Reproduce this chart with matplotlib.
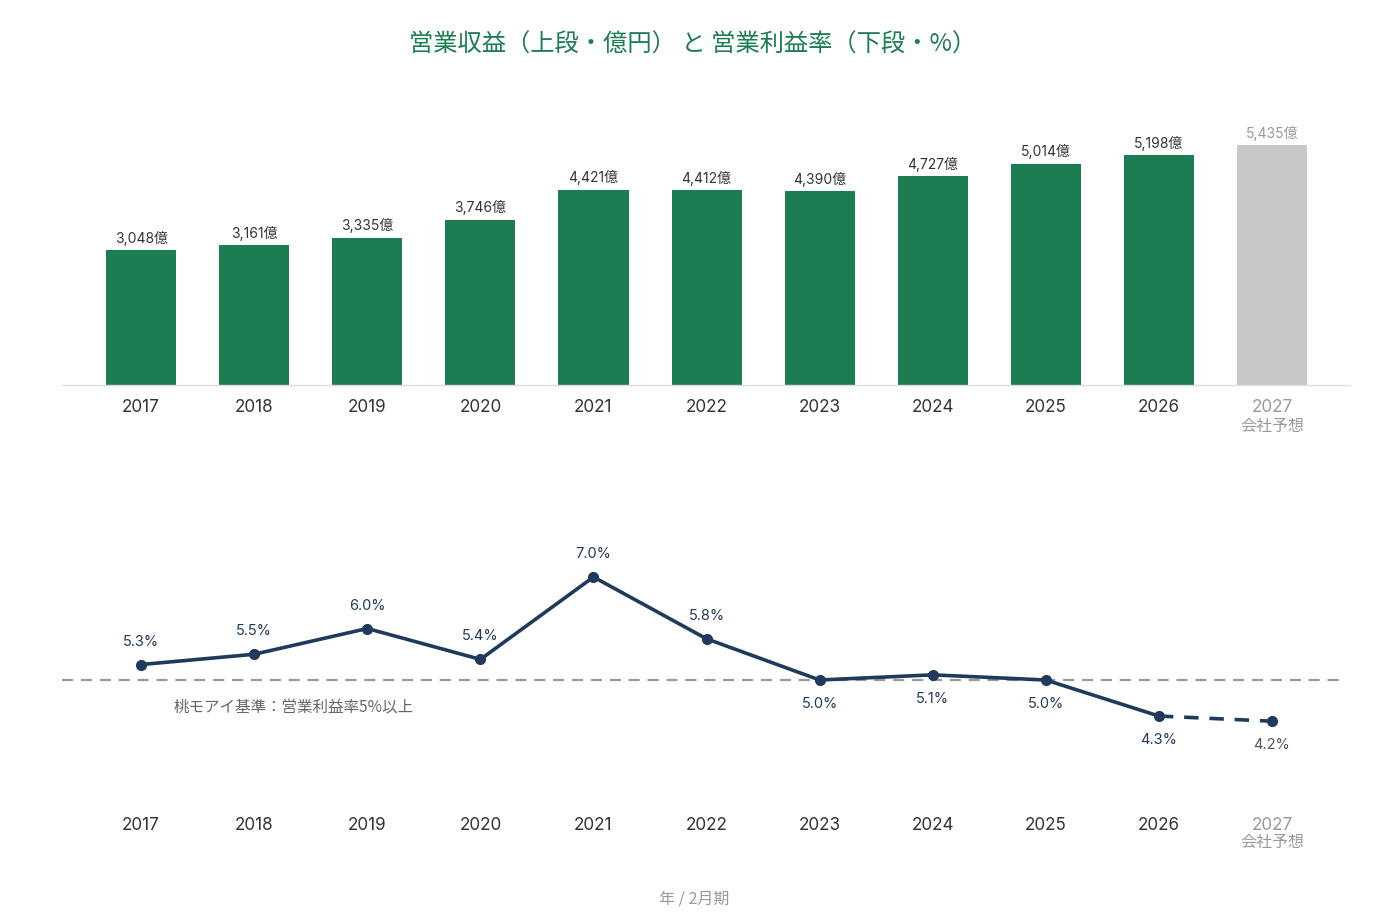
import matplotlib
matplotlib.use("Agg")
import matplotlib.pyplot as plt
import matplotlib.transforms as mtrans

plt.rcParams['font.family'] = ['Inter', 'Noto Sans CJK JP', 'DejaVu Sans']
CJK = ['Noto Sans CJK JP', 'DejaVu Sans']

years = ["2017", "2018", "2019", "2020", "2021", "2022", "2023", "2024", "2025", "2026", "2027"]
revenue = [3048, 3161, 3335, 3746, 4421, 4412, 4390, 4727, 5014, 5198, 5435]
margin = [5.3, 5.5, 6.0, 5.4, 7.0, 5.8, 5.0, 5.1, 5.0, 4.3, 4.2]
forecast_note = "会社予想"
threshold = 5.0
title = "営業収益（上段・億円） と 営業利益率（下段・%）"
threshold_label = "桃モアイ基準：営業利益率5%以上"
footer = "年 / 2月期"

GREEN = "#1b7d51"
GRAY_BAR = "#c8c8c8"
NAVY = "#1f3a5c"
TXT = "#333333"
MUTED = "#999999"

fig = plt.figure(figsize=(13.86, 9.24), dpi=100)
W, H = 1386, 924

def axrect(x0, y0, x1, y1):
    return [x0 / W, (H - y1) / H, (x1 - x0) / W, (y1 - y0) / H]

xs = list(range(len(years)))
xlim = (-0.70, 10.69)

# --- top: revenue bars
ax1 = fig.add_axes(axrect(62, 100, 1350, 385))
colors = [GREEN] * (len(years) - 1) + [GRAY_BAR]
ax1.bar(xs, revenue, width=0.62, color=colors, zorder=2)
ax1.set_xlim(*xlim)
ax1.set_ylim(0, 6454)
for s in ["top", "right", "left"]:
    ax1.spines[s].set_visible(False)
ax1.spines["bottom"].set_color("#dddddd")
ax1.spines["bottom"].set_linewidth(1)
ax1.set_yticks([])
ax1.set_xticks([])
for i, (x, v) in enumerate(zip(xs, revenue)):
    c = MUTED if i == len(years) - 1 else TXT
    ax1.annotate(f"{v:,}億", (x, v), xytext=(0, 3.2), textcoords="offset points",
                 ha="center", va="bottom", fontsize=10, color=c)

def year_labels(ax, ypx):
    blend = mtrans.blended_transform_factory(ax.transData, fig.transFigure)
    for i, (x, yr) in enumerate(zip(xs, years)):
        if i == len(years) - 1:
            ax.text(x, (H - ypx) / H, yr, transform=blend, ha="center", va="center",
                    fontsize=12.3, color=MUTED)
            ax.text(x, (H - ypx - 18) / H, forecast_note, transform=blend, ha="center", va="center",
                    fontsize=11.5, color=MUTED, family=CJK)
        else:
            ax.text(x, (H - ypx) / H, yr, transform=blend, ha="center", va="center",
                    fontsize=12.3, color=TXT)

year_labels(ax1, 408)

# --- bottom: margin line
ax2 = fig.add_axes(axrect(62, 520, 1350, 800))
ax2.set_xlim(*xlim)
ax2.set_ylim(5.0 - 120 / 51.5, 5.0 + 160 / 51.5)
ax2.axis("off")
ax2.axhline(threshold, color="#9a9a9a", lw=1.6, ls=(0, (5, 3.5)), zorder=1, xmax=0.995)
ax2.plot(xs[:-1], margin[:-1], color=NAVY, lw=2.6, zorder=3, solid_joinstyle="round")
ax2.plot(xs[-2:], margin[-2:], color=NAVY, lw=2.6, ls=(0, (4, 3)), zorder=3)
ax2.plot(xs, margin, "o", color=NAVY, ms=7, zorder=4)
for i, (x, v) in enumerate(zip(xs, margin)):
    if i <= 5:
        ax2.annotate(f"{v:.1f}%", (x, v), xytext=(0, 23 * 0.72), textcoords="offset points",
                     ha="center", va="center", fontsize=10.5, color=NAVY)
    else:
        c = "#555555" if i == len(years) - 1 else NAVY
        ax2.annotate(f"{v:.1f}%", (x, v), xytext=(0, -24 * 0.72), textcoords="offset points",
                     ha="center", va="center", fontsize=10.5, color=c)
ax2.annotate(threshold_label, (0.29, threshold), xytext=(0, -28 * 0.72), textcoords="offset points",
             ha="left", va="center", fontsize=11.2, color="#666666", family=CJK)

year_labels(ax2, 825)

fig.text(0.5, (H - 45) / H, title, ha="center", va="center", fontsize=17.5, color=GREEN, family=CJK)
fig.text(694 / W, (H - 899) / H, footer, ha="center", va="center", fontsize=11.5, color=MUTED, family=CJK)

fig.savefig("out.png", dpi=100, facecolor="white")
